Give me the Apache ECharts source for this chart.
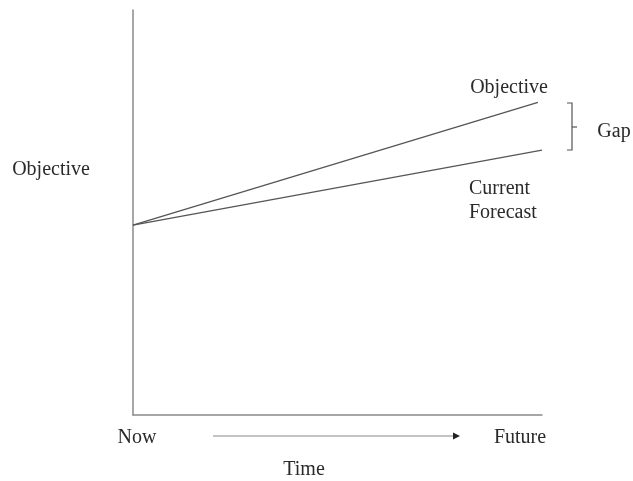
<!DOCTYPE html>
<html><head><meta charset="utf-8">
<script src="https://cdn.jsdelivr.net/npm/echarts@6/dist/echarts.min.js"></script>
<style>html,body{margin:0;padding:0;background:#fff}#c{width:633px;height:481px}</style>
</head><body><div id="c"></div>
<script>
var timePoints = [0, 99];
var objectiveValues = [46.9, 77.2];
var forecastValues = [46.9, 65.4];
var forecastX = [0, 100];
var xLabels = ['Now', 'Future'];
var chart = echarts.init(document.getElementById('c'));
var txt = function (x, y, s, align) {
  return {type: 'text', x: x, y: y,
    style: {text: s, font: '20px "Liberation Serif"', fill: '#2a2a2a', align: align || 'center', verticalAlign: 'middle'}};
};
chart.setOption({
  animation: false,
  grid: {left: 133, right: 91, top: 10, bottom: 66},
  xAxis: {type: 'value', min: 0, max: 100, axisLine: {show: true, lineStyle: {color: '#8a8a8a', width: 1.5}},
    axisTick: {show: false}, axisLabel: {show: false}, splitLine: {show: false}},
  yAxis: {type: 'value', min: 0, max: 100, axisLine: {show: true, lineStyle: {color: '#8a8a8a', width: 1.5}},
    axisTick: {show: false}, axisLabel: {show: false}, splitLine: {show: false}},
  series: [
    {type: 'line', data: timePoints.map(function (t, i) { return [t, objectiveValues[i]]; }),
      symbol: 'none', lineStyle: {color: '#555', width: 1.3}},
    {type: 'line', data: forecastX.map(function (t, i) { return [t, forecastValues[i]]; }),
      symbol: 'none', lineStyle: {color: '#555', width: 1.3}}
  ],
  graphic: [
    txt(51, 170, 'Objective'),
    txt(509, 88, 'Objective'),
    txt(614, 132, 'Gap'),
    txt(469, 189, 'Current', 'left'),
    txt(469, 213, 'Forecast', 'left'),
    txt(137, 438, xLabels[0]),
    txt(520, 438, xLabels[1]),
    txt(304, 470, 'Time'),
    {type: 'polyline', shape: {points: [[567, 103], [572, 103], [572, 150], [567, 150]]}, style: {stroke: '#555', lineWidth: 1.2, fill: null}},
    {type: 'line', shape: {x1: 572, y1: 127, x2: 577, y2: 127}, style: {stroke: '#555', lineWidth: 1.2}},
    {type: 'line', shape: {x1: 213, y1: 436, x2: 455, y2: 436}, style: {stroke: '#888', lineWidth: 1.2}},
    {type: 'polygon', shape: {points: [[453, 432.5], [460, 436], [453, 439.5]]}, style: {fill: '#222'}}
  ]
});
</script></body></html>
